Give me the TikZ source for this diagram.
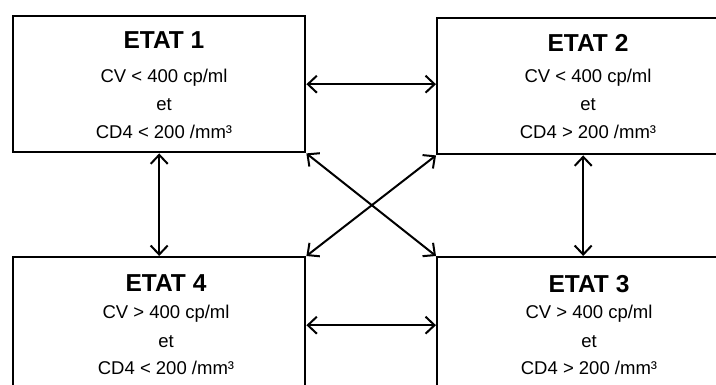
\documentclass[tikz,border=0pt]{standalone}
\usepackage{fontspec}
\setmainfont{Liberation Sans}
\usetikzlibrary{arrows.meta}
\begin{document}
\begin{tikzpicture}[x=1pt,y=-1pt,
  box/.style={draw, line width=2.4pt, minimum width=292pt, minimum height=136pt, inner sep=0pt, anchor=north west},
  title/.style={font=\fontsize{24.5}{27}\selectfont\bfseries, inner sep=0pt},
  txt/.style={font=\fontsize{18.5}{20}\selectfont, inner sep=0pt},
  link/.style={line width=2pt, {Straight Barb[length=9pt,width=17pt]}-{Straight Barb[length=9pt,width=17pt]}}]
\useasboundingbox (0,0) rectangle (716,385);
\clip (0,0) rectangle (716,385);
\node[box] (b1) at (12,15) {};
\node[box] (b2) at (436,17) {};
\node[box] (b4) at (12,256) {};
\node[box] (b3) at (436,256) {};
% texts
\node[title] (t1) at (164,40) {ETAT 1};
\node[txt] (t1a) at (164,78) {CV < 400 cp/ml};
\node[txt] (t1b) at (164,105) {et};
\node[txt] (t1c) at (164,132) {CD4 < 200 /mm³};
\node[title] (t2) at (588,43) {ETAT 2};
\node[txt] (t2a) at (588,78) {CV < 400 cp/ml};
\node[txt] (t2b) at (588,105) {et};
\node[txt] (t2c) at (588,132) {CD4 > 200 /mm³};
\node[title] (t4) at (166,283) {ETAT 4};
\node[txt] (t4a) at (166,314) {CV > 400 cp/ml};
\node[txt] (t4b) at (166,342) {et};
\node[txt] (t4c) at (166,368) {CD4 < 200 /mm³};
\node[title] (t3) at (589,284) {ETAT 3};
\node[txt] (t3a) at (589,314) {CV > 400 cp/ml};
\node[txt] (t3b) at (589,342) {et};
\node[txt] (t3c) at (589,368) {CD4 > 200 /mm³};
% connectors
\coordinate (h1) at (b2.west |- b1.east);
\draw[link] (b1.east) -- (h1);
\draw[link] (b4.east) -- (b3.west);
\draw[link] (b1.south) -- (b4.north);
\coordinate (v2) at (b2.south |- b3.north);
\draw[link] (b2.south) -- (v2);
\draw[link] (b1.south east) -- (b3.north west);
\draw[link] (b2.south west) -- (b4.north east);
\end{tikzpicture}
\end{document}
